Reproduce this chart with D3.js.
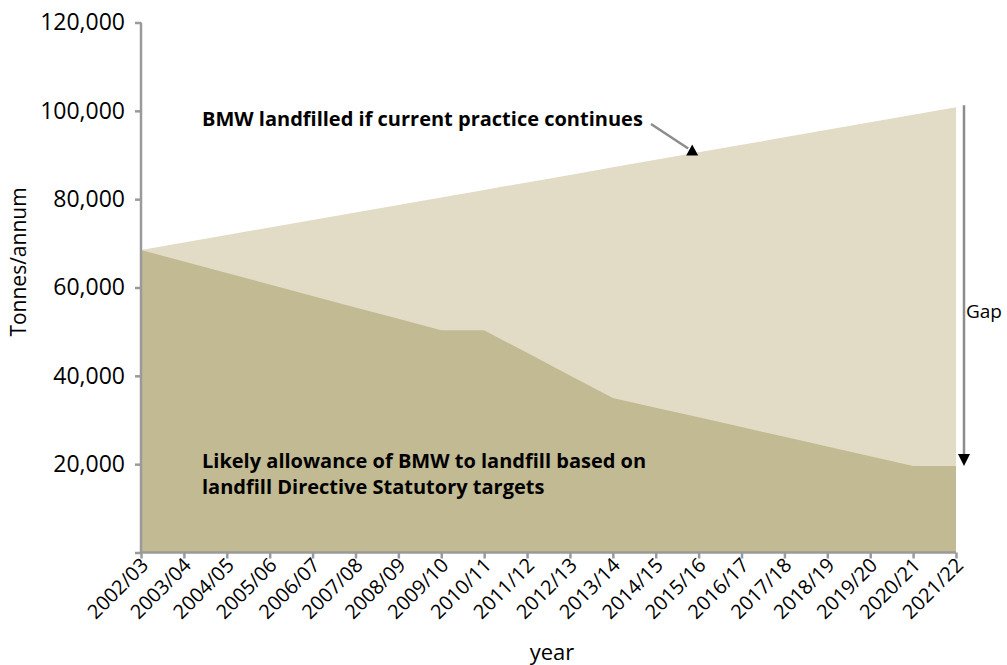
<!DOCTYPE html>
<html><head><meta charset="utf-8">
<script src="https://cdn.jsdelivr.net/npm/d3@7"></script>
<style>
html,body{margin:0;padding:0;background:#fff;}
svg{display:block;font-family:"Open Sans",sans-serif;}
</style></head>
<body>
<svg id="chart" width="1007" height="665"></svg>
<script>
const years = ["2002/03","2003/04","2004/05","2005/06","2006/07","2007/08","2008/09","2009/10","2010/11","2011/12","2012/13","2013/14","2014/15","2015/16","2016/17","2017/18","2018/19","2019/20","2020/21","2021/22"];
const currentPractice = [68500,70200,71900,73600,75300,77000,78700,80400,82100,83800,85500,87200,88900,90600,92300,94000,95700,97400,99100,100800];
const allowance = [68500,65900,63300,60700,58100,55500,52900,50300,50300,45200,40100,35000,32800,30600,28400,26200,24000,21800,19600,19600];
const yTicks = [20000,40000,60000,80000,100000,120000];

const svg = d3.select("#chart");
const x = d3.scalePoint().domain(years).range([141,956]);
const y = d3.scaleLinear().domain([0,120000]).range([552.5,22.5]);

const areaTop = d3.area().x((d,i)=>x(years[i])).y0(y(0)).y1(d=>y(d));
svg.append("path").datum(currentPractice).attr("d",areaTop).attr("fill","#e2dcc6");
svg.append("path").datum(allowance).attr("d",areaTop).attr("fill","#c2ba92");

const axisColor = "#9a9a9a";
// y axis
const yAxis = svg.append("g").attr("transform",`translate(${x(years[0])},0)`)
  .call(d3.axisLeft(y).tickValues([0,...yTicks]).tickSize(6).tickPadding(10).tickFormat(d=>d===0?"":d3.format(",")(d)));
yAxis.select(".domain").attr("stroke",axisColor).attr("stroke-width",2.5).attr("d",`M0,${y(120000)}V${y(0)}`);
yAxis.selectAll(".tick line").attr("stroke",axisColor).attr("stroke-width",2.5);
yAxis.selectAll(".tick text").attr("fill","#000").style("font-size","23px").style("font-family","Open Sans");

// x axis
const xAxis = svg.append("g").attr("transform",`translate(0,${y(0)})`)
  .call(d3.axisBottom(x).tickSize(6).tickPadding(4));
xAxis.select(".domain").attr("stroke",axisColor).attr("stroke-width",2.5).attr("d",`M${x(years[0])},0H${x(years[years.length-1])}`);
xAxis.selectAll(".tick line").attr("stroke",axisColor).attr("stroke-width",2.5);
xAxis.selectAll(".tick text").attr("fill","#000").style("font-size","20px").style("font-family","Open Sans")
  .attr("text-anchor","end").attr("dy",null).attr("y",0).attr("x",0)
  .attr("transform","translate(8,14) rotate(-45)");

// axis titles
svg.append("text").attr("x",552).attr("y",660).attr("text-anchor","middle").style("font-size","22px").text("year");
svg.append("text").attr("transform","translate(26,262) rotate(-90)").attr("text-anchor","middle").style("font-size","21px").text("Tonnes/annum");

// annotations
svg.append("text").attr("x",202).attr("y",126).style("font-size","20px").style("font-weight","bold").text("BMW landfilled if current practice continues");
const lab = svg.append("text").attr("x",202).attr("y",468).style("font-size","20px").style("font-weight","bold");
lab.append("tspan").attr("x",202).attr("dy",0).text("Likely allowance of BMW to landfill based on");
lab.append("tspan").attr("x",202).attr("dy",26).text("landfill Directive Statutory targets");

// pointer arrow to current practice line
const ti = 12.85;
const tipX = x(years[0]) + ti*x.step();
const tipVal = currentPractice[0] + (currentPractice[19]-currentPractice[0])*ti/19;
const tipY = y(tipVal);
svg.append("line").attr("x1",651).attr("y1",124).attr("x2",tipX-4).attr("y2",tipY-5).attr("stroke","#8c8c8c").attr("stroke-width",2.5);
svg.append("path").attr("d",`M${tipX-6},${tipY+2}L${tipX+6},${tipY+2}L${tipX},${tipY-9}Z`).attr("fill","#000");

// gap arrow
const gx = x(years[19]) + 8;
svg.append("line").attr("x1",gx).attr("y1",y(currentPractice[19])-2).attr("x2",gx).attr("y2",y(allowance[19])-10).attr("stroke","#8c8c8c").attr("stroke-width",2.5);
svg.append("path").attr("d",`M${gx-6},${y(allowance[19])-12}L${gx+6},${y(allowance[19])-12}L${gx},${y(allowance[19])}Z`).attr("fill","#000");
svg.append("text").attr("x",gx+2).attr("y",318).style("font-size","19px").text("Gap");
</script>
</body></html>
